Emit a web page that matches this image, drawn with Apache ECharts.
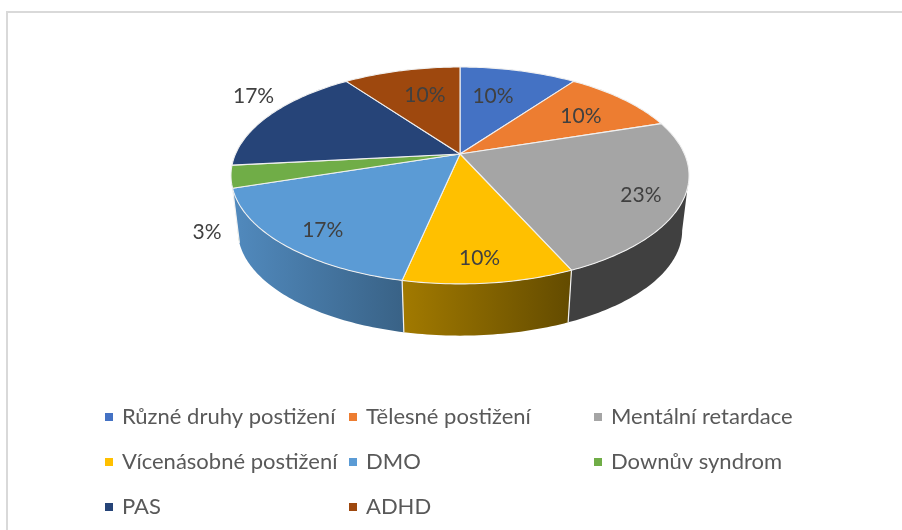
<!DOCTYPE html>
<html>
<head>
<meta charset="utf-8">
<style>html,body{margin:0;padding:0;background:#fff}#c{width:902px;height:530px}</style>
<script src="https://cdn.jsdelivr.net/npm/echarts@6/dist/echarts.min.js"></script>
</head>
<body>
<div id="c"></div>
<script>
const categories = ['Různé druhy postižení','Tělesné postižení','Mentální retardace','Vícenásobné postižení','DMO','Downův syndrom','PAS','ADHD'];
const values = [3,3,7,3,5,1,5,3];
const colors = ['#4472c4','#ed7d31','#a5a5a5','#ffc000','#5b9bd5','#70ad47','#264478','#9e480e'];
// label placement, in disc terms: fraction of the radius and turn from the slice's middle (degrees)
const labelRadius = [0.647,0.701,0.832,0.836,0.831,1.178,1.21,0.662];
const labelTurn = [-3.2,1.9,2,1,-2,-21.6,7.3,2.6];
const legendColumns = [[0,3,6],[1,4,7],[2,5]];
const legendLeft = [105,349,594];

// projection of the tilted disc
const cx=460, apexY=154, cA=224.5, aA=73.7, kA=-0.198, ellipseY=175;
const sideDy=55, sideScale=0.97;
const rad=d=>d*Math.PI/180;
function rim(th,r){ r=r===undefined?1:r;
  const U=r*Math.sin(rad(th)),V=-r*Math.cos(rad(th)),w=1+kA*V;
  return [cx+cA*U/w,(apexY+aA*V)/w];
}
function foot(th){const p=rim(th);
  return [cx+sideScale*(p[0]-cx),ellipseY+sideDy+sideScale*(p[1]-ellipseY)];
}
const tangentA=Math.acos(kA)*180/Math.PI; // silhouette angles
const total=values.reduce((a,b)=>a+b,0);
const starts=[];values.reduce((s,v,i)=>{starts[i]=s;return s+v;},0);
function shade(hex,f){
  const n=parseInt(hex.slice(1),16);
  const c=[n>>16,(n>>8)&255,n&255].map(v=>Math.round(v*f));
  return 'rgb('+c.join(',')+')';
}
const shadeAt=x=>Math.max(0.39,Math.min(0.9,0.88-(x-240)*0.00152));

function arc(fn,a,b){const pts=[];const n=Math.max(2,Math.ceil(Math.abs(b-a)));
  for(let i=0;i<=n;i++)pts.push(fn(a+(b-a)*i/n));return pts;}

function renderSlice(i){
  const a=starts[i]/total*360,b=(starts[i]+values[i])/total*360,mid=(a+b)/2;
  const children=[];
  // side wall
  const sa=Math.max(a,tangentA),sb=Math.min(b,360-tangentA);
  if(sb>sa){
    const t=arc(rim,sa,sb),bt=arc(foot,sb,sa),pts=t.concat(bt);
    const xs=pts.map(p=>p[0]),x0=Math.min(...xs),x1=Math.max(...xs);
    children.push({type:'polygon',z2:1,shape:{points:pts},style:{fill:{type:'linear',x:0,y:0,x2:1,y2:0,colorStops:[
      {offset:0,color:shade(colors[i],shadeAt(x0))},{offset:1,color:shade(colors[i],shadeAt(x1))}]}}});
    if(a>=tangentA){
      children.push({type:'line',z2:2,shape:{x1:rim(a)[0],y1:rim(a)[1],x2:foot(a)[0],y2:foot(a)[1]},style:{stroke:'#f2f2f2',lineWidth:1.2}});
    }
  }
  // top face
  const face=[[cx,apexY]].concat(arc(rim,a,b));
  children.push({type:'polygon',z2:3,shape:{points:face},style:{fill:colors[i],stroke:'#f0f0f0',lineWidth:1.1,lineJoin:'round'}});
  // data label
  const p=rim(mid+labelTurn[i],labelRadius[i]);
  children.push({type:'text',z2:5,style:{x:p[0],y:p[1],text:Math.round(values[i]/total*100)+'%',align:'center',verticalAlign:'middle',
    fill:'#404040',font:'21px Lato, sans-serif'}});
  return {type:'group',children};
}

const series=categories.map((name,i)=>({
  type:'custom',name,coordinateSystem:'none',data:[[values[i]]],silent:true,animation:false,
  itemStyle:{color:colors[i]},renderItem:()=>renderSlice(i)
}));
const legends=legendColumns.map((col,j)=>({
  orient:'vertical',left:legendLeft[j],top:405,padding:0,itemGap:21,itemWidth:8,itemHeight:8,icon:'rect',selectedMode:false,
  data:col.map(k=>categories[k]),
  textStyle:{color:'#595959',fontFamily:'Lato, sans-serif',fontSize:22,height:24,lineHeight:24,padding:[0,0,0,4]}
}));
const chart=echarts.init(document.getElementById('c'),null,{renderer:'canvas'});
chart.setOption({
  animation:false,color:colors,backgroundColor:'#fff',
  legend:legends,series,
  graphic:[{type:'polyline',shape:{points:[[7,530],[7,12],[902,12]]},style:{stroke:'#d9d9d9',lineWidth:2,fill:null},silent:true}]
});
</script>
</body>
</html>
